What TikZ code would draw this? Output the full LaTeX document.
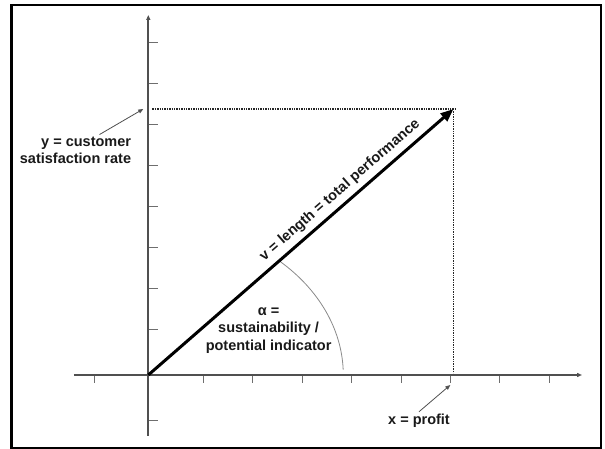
\documentclass[tikz,border=0pt]{standalone}
\usepackage{fontspec}
\setmainfont{Liberation Sans}
\usetikzlibrary{arrows.meta}

\definecolor{axisgray}{HTML}{505050}
\definecolor{tickgray}{HTML}{6E6E6E}
\definecolor{arcgray}{HTML}{8A8A8A}

\tikzset{
    axisline/.style={
        -{Triangle[length=5pt,width=4pt]},
        draw=axisgray,
        line width=1.6pt
    },
    tickmark/.style={
        draw=tickgray,
        line width=1pt
    },
    vectorarrow/.style={
        -{Triangle[length=13pt,width=10pt]},
        draw=black,
        line width=3pt
    },
    guideline/.style={
        draw=black!85,
        densely dotted,
        line width=1.4pt
    },
    pointerarrow/.style={
        -{Triangle[length=5pt,width=4pt]},
        draw=axisgray,
        line width=0.8pt
    },
    labeltext/.style={
        font=\bfseries\fontsize{14.5}{17.5}\selectfont,
        text=black!90,
        inner sep=2pt
    }
}

\begin{document}
\begin{tikzpicture}[x=1pt,y=1pt]
        \useasboundingbox (-148.3,-74) rectangle (456.7,375);
        \draw[line width=2.4pt] (-136.6,-73) rectangle (452.4,370);

        \coordinate (origin) at (0,0);
        \coordinate (xstart) at (-74.3,0);
        \coordinate (xend) at (433.7,0);
        \coordinate (ystart) at (0,-60.7);
        \coordinate (yend) at (0,360);
        \coordinate (tip) at (305.2,266);
        \coordinate (ymark) at (-5,266);
        \coordinate (xmark) at (302,-10);

        % ticks
        \draw[tickmark] (-54,0) -- ++(0,-8);
        \foreach \k in {0,...,7}
            \draw[tickmark] ({55+49.43*\k},0) -- ++(0,-8);
        \draw[tickmark] (0,-45.7) -- ++(10,0);
        \foreach \k in {0,...,7}
            \draw[tickmark] (0,{45.7+41.04*\k}) -- ++(10,0);

        % axes
        \draw[axisline] (xstart) -- (xend);
        \draw[axisline] (ystart) -- (yend);

        % projections of the vector
        \draw[guideline] (4,266) -- (308,266);
        \draw[guideline] (tip) -- (305.2,2);

        \draw[draw=arcgray, line width=0.8pt]
            (47.5:195 and 154) arc[start angle=47.5, end angle=2,
            x radius=195, y radius=154];

        \draw[vectorarrow] (origin) --
            node[sloped, above=3pt, pos=0.657, labeltext]
            {v = length = total performance} (tip);

        \node[labeltext, align=right, anchor=east] (ylabel) at (-15,224.7)
            {y = customer\\satisfaction rate};
        \node[labeltext, align=center] (xlabel) at (270.7,-45.7) {x = profit};
        \node[labeltext, align=center] (alphalabel) at (120.3,44.6)
            {α =\\sustainability /\\potential indicator};

        \draw[pointerarrow] ([xshift=24pt]ylabel.north) -- (ymark);
        \draw[pointerarrow] (xlabel.north) -- (xmark);
    \end{tikzpicture}
\end{document}
